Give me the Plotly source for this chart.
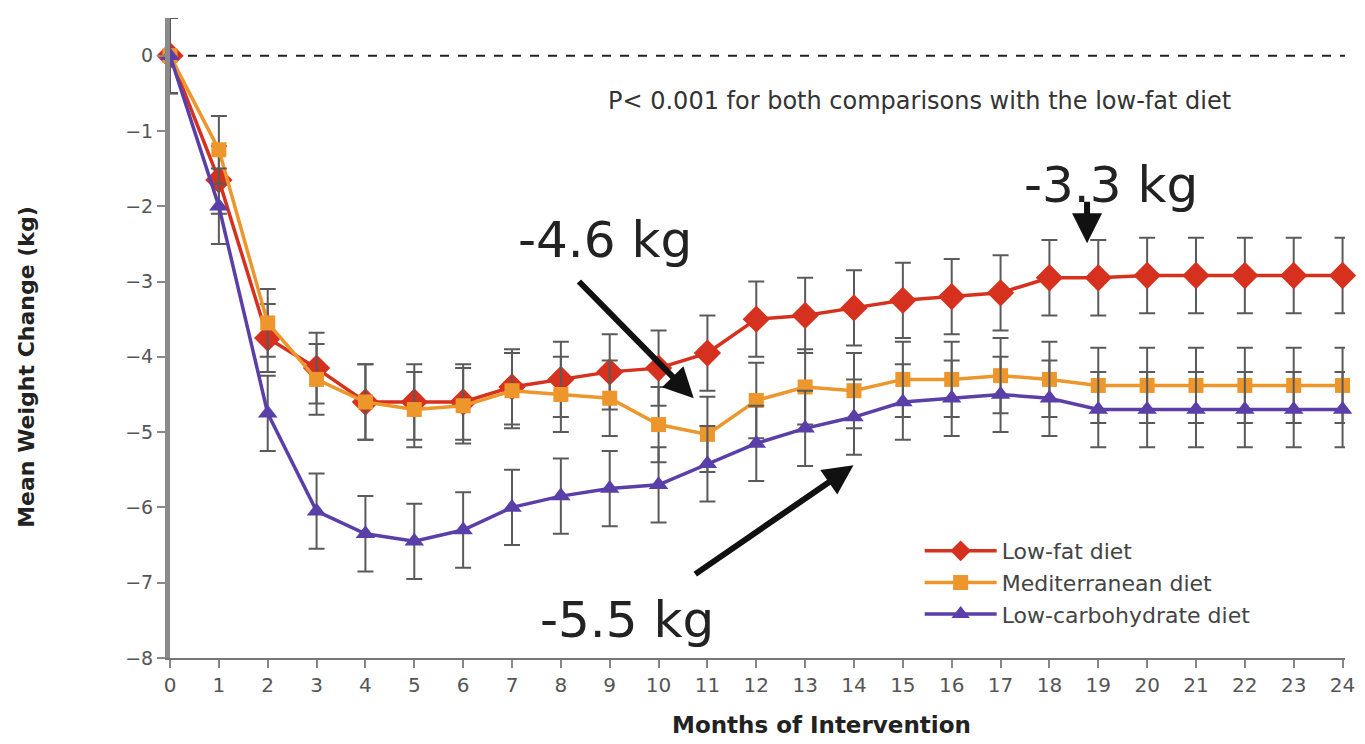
import plotly.graph_objects as go

months = list(range(0, 25))
x_ticks = list(range(0, 25))
y_ticks = list(range(-8, 1))

low_fat = [0, -1.65, -3.75, -4.15, -4.6, -4.6, -4.6, -4.4, -4.3, -4.2, -4.15, -3.95, -3.5,
           -3.45, -3.35, -3.25, -3.2, -3.15, -2.95, -2.95, -2.92, -2.92, -2.92, -2.92, -2.92]
mediterranean = [0, -1.25, -3.55, -4.3, -4.6, -4.7, -4.65, -4.45, -4.5, -4.55, -4.9, -5.03, -4.58,
                 -4.4, -4.45, -4.3, -4.3, -4.25, -4.3, -4.38, -4.38, -4.38, -4.38, -4.38, -4.38]
low_carb = [0, -2.0, -4.75, -6.05, -6.35, -6.45, -6.3, -6.0, -5.85, -5.75, -5.7, -5.42, -5.15,
            -4.95, -4.8, -4.6, -4.55, -4.5, -4.55, -4.7, -4.7, -4.7, -4.7, -4.7, -4.7]

err_low_fat = [0.5, 0.45, 0.45, 0.47, 0.5, 0.5, 0.5, 0.5, 0.5, 0.5, 0.5, 0.5, 0.5,
               0.5, 0.5, 0.5, 0.5, 0.5, 0.5, 0.5, 0.5, 0.5, 0.5, 0.5, 0.5]
err_med = [0.5, 0.45, 0.45, 0.47, 0.5, 0.5, 0.5, 0.5, 0.5, 0.5, 0.5, 0.5, 0.5,
           0.5, 0.5, 0.5, 0.5, 0.5, 0.5, 0.5, 0.5, 0.5, 0.5, 0.5, 0.5]
err_low_carb = [0.5, 0.5, 0.5, 0.5, 0.5, 0.5, 0.5, 0.5, 0.5, 0.5, 0.5, 0.5, 0.5,
                0.5, 0.5, 0.5, 0.5, 0.5, 0.5, 0.5, 0.5, 0.5, 0.5, 0.5, 0.5]

series = [
    ("Low-fat diet", low_fat, err_low_fat, "#d6301f", "diamond", 21),
    ("Mediterranean diet", mediterranean, err_med, "#ec962c", "square", 15),
    ("Low-carbohydrate diet", low_carb, err_low_carb, "#5b3fa8", "triangle-up", 17),
]

fig = go.Figure()
for name, vals, err, color, sym, size in series:
    fig.add_trace(go.Scatter(
        x=months, y=vals, name=name, mode="lines+markers",
        line=dict(color=color, width=3.5),
        marker=dict(symbol=sym, size=size, color=color),
        error_y=dict(type="data", array=err, visible=True, color="#5a5a5a",
                     thickness=2, width=8),
        cliponaxis=False,
    ))

fig.add_shape(type="line", xref="paper", yref="y", x0=0, x1=1, y0=0, y1=0,
              line=dict(color="#222222", width=2, dash="dash"), layer="below")

big_font = dict(family="DejaVu Sans", size=50, color="#222222")
fig.add_annotation(x=8.91, y=-2.45, xref="x", yref="y", text="-4.6 kg",
                   showarrow=False, font=big_font)
fig.add_annotation(x=19.26, y=-1.72, xref="x", yref="y", text="-3.3 kg",
                   showarrow=False, font=big_font)
fig.add_annotation(x=9.36, y=-7.5, xref="x", yref="y", text="-5.5 kg",
                   showarrow=False, font=big_font)

arrows = [((10.72, -4.55), (8.34, -2.98)),
          ((13.99, -5.44), (10.72, -6.90)),
          ((18.77, -2.49), (18.77, -1.92))]
for (tx, ty), (sx, sy) in arrows:
    fig.add_annotation(x=tx, y=ty, xref="x", yref="y", ax=sx, ay=sy, axref="x", ayref="y",
                       text="", showarrow=True, arrowhead=2, arrowsize=1,
                       arrowwidth=6, arrowcolor="#111111")

fig.add_annotation(x=15.35, y=-0.6, xref="x", yref="y",
                   text="P< 0.001 for both comparisons with the low-fat diet",
                   showarrow=False, font=dict(family="DejaVu Sans", size=24, color="#333333"))

fig.add_annotation(x=13.34, y=-0.128, xref="x", yref="paper", text="<b>Months of Intervention</b>",
                   showarrow=False, font=dict(family="DejaVu Sans", size=23, color="#222222"))

fig.add_annotation(x=-0.134, y=0.455, xref="paper", yref="paper", textangle=-90,
                   text="<b>Mean Weight Change (kg)</b>", showarrow=False,
                   font=dict(family="DejaVu Sans", size=22, color="#222222"))

fig.update_layout(
    width=1357, height=736,
    margin=dict(l=162, r=13, t=10, b=86),
    paper_bgcolor="white", plot_bgcolor="white",
    showlegend=True,
    legend=dict(x=0.638, y=0.2, xanchor="left", yanchor="top",
                font=dict(family="DejaVu Sans", size=22, color="#444444"),
                bgcolor="rgba(0,0,0,0)", tracegroupgap=0, itemwidth=72),
    font=dict(family="DejaVu Sans"),
)

fig.update_xaxes(range=[0, 24.05], tickmode="array", tickvals=x_ticks,
                 ticktext=[str(v) for v in x_ticks],
                 showgrid=False, zeroline=False, showline=True, linecolor="#777777", linewidth=2,
                 ticks="outside", ticklen=8, tickwidth=2, tickcolor="#888888",
                 tickfont=dict(family="DejaVu Sans", size=20, color="#555555"))
fig.update_yaxes(range=[-8, 0.5], tickmode="array", tickvals=y_ticks,
                 showgrid=False, zeroline=False, showline=True, linecolor="#8a8a8a", linewidth=5,
                 ticks="outside", ticklen=8, tickwidth=2, tickcolor="#888888",
                 tickfont=dict(family="DejaVu Sans", size=19, color="#555555"))

fig.write_html("out.html")
